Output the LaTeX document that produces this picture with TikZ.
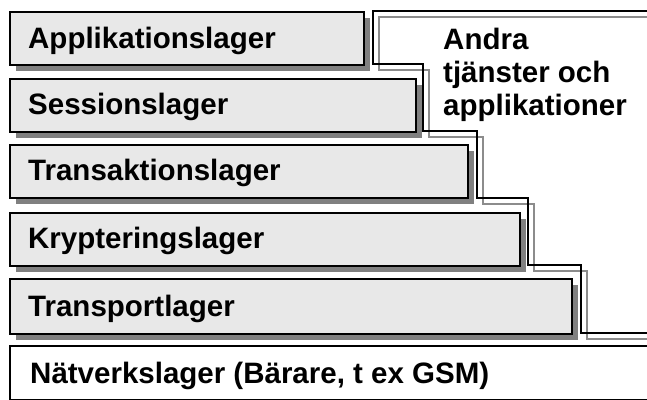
\documentclass[tikz,border=0pt]{standalone}
\usepackage{fontspec}
\setmainfont{Liberation Sans}
\usetikzlibrary{shadows}

\definecolor{boxgray}{HTML}{E8E8E8}
\definecolor{shadowgray}{HTML}{808080}
\definecolor{edgegray}{HTML}{8C8C8C}

\tikzset{
  layer/.style={draw=black, line width=2pt, fill=boxgray, anchor=north west,
    inner sep=0pt,
    drop shadow={shadow xshift=6pt, shadow yshift=-6pt, fill=shadowgray, opacity=1}},
  layertext/.style={anchor=base west, inner sep=0pt, font=\bfseries\fontsize{29.5}{33}\selectfont},
  stairs/.style={line width=2pt, line join=miter}
}

\begin{document}
\begin{tikzpicture}[x=1pt, y=-1pt]
\useasboundingbox (0,0) rectangle (647,399);
\clip (0,0) rectangle (647,399);

% the protocol layers
\node[layer, minimum width=354pt, minimum height=53pt] (app) at (9,11) {};
\node[layer, minimum width=406pt, minimum height=53pt] (sess) at (9,78) {};
\node[layer, minimum width=458pt, minimum height=53pt] (trans) at (9,144) {};
\node[layer, minimum width=510pt, minimum height=53pt] (kryp) at (9,212) {};
\node[layer, minimum width=562pt, minimum height=55pt] (trsp) at (9,278) {};
\node[draw=black, line width=2pt, fill=white, anchor=north west, inner sep=0pt,
      minimum width=680pt, minimum height=53.5pt] (natv) at (9,345) {};

\node[layertext] (apptext) at ([xshift=19pt, yshift=-9.5pt]app.west) {Applikationslager};
\node[layertext] (sesstext) at ([xshift=19pt, yshift=-9pt]sess.west) {Sessionslager};
\node[layertext] (transtext) at ([xshift=19pt, yshift=-9pt]trans.west) {Transaktionslager};
\node[layertext] (kryptext) at ([xshift=19pt, yshift=-9pt]kryp.west) {Krypteringslager};
\node[layertext] (trsptext) at ([xshift=19pt, yshift=-9.5pt]trsp.west) {Transportlager};
\node[layertext] (natvtext) at ([xshift=21pt, yshift=-11pt]natv.west) {Nätverkslager (Bärare, t ex GSM)};

% stepped outline for the other services
\draw[stairs, edgegray] (665,16.5) -- (378.5,16.5) -- (378.5,69.5) -- (428.5,69.5)
  -- (428.5,136.5) -- (482.5,136.5) -- (482.5,203.5) -- (533.5,203.5)
  -- (533.5,270.5) -- (586.5,270.5) -- (586.5,338.5) -- (665,338.5);
\draw[stairs, black] (665,11) -- (373,11) -- (373,64) -- (423,64)
  -- (423,131) -- (477,131) -- (477,198) -- (528,198)
  -- (528,265) -- (581,265) -- (581,333) -- (665,333);

\node[layertext, anchor=north west, align=left] (andra) at (443,27.5)
  {Andra\\tjänster och\\applikationer};
\end{tikzpicture}
\end{document}
